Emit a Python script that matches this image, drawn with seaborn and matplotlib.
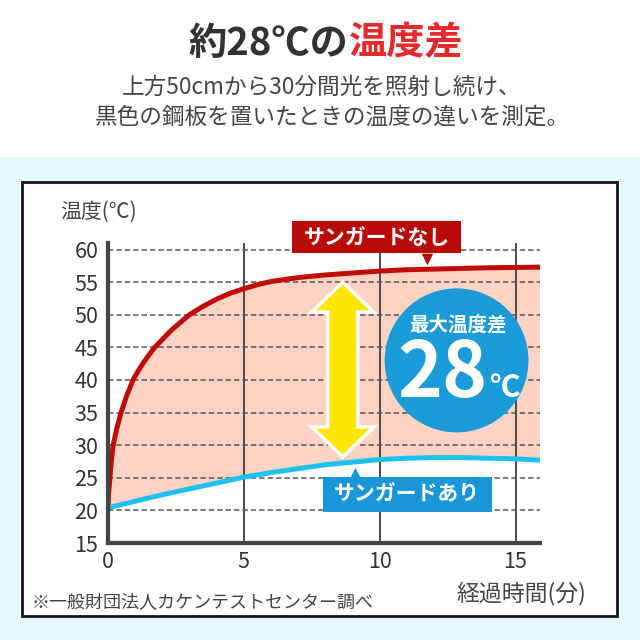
import matplotlib
matplotlib.use('Agg')
import matplotlib.pyplot as plt
import matplotlib.patches as mpatches
import numpy as np
import pandas as pd
import seaborn as sns

# data (minutes, deg C)
red_t = [0, 0.02, 0.07, 0.12, 0.19, 0.32, 0.48, 0.68, 0.92, 1.1, 1.28, 1.5, 1.72, 2.0,
         2.3, 2.6, 3.0, 3.5, 4.0, 4.5, 5.0, 5.5, 6.0, 7.0, 8.0, 9.0, 10.0, 11.0, 12.0,
         13.0, 14.0, 15.0, 15.9]
red_v = [20, 22.5, 25, 27.5, 30, 32.5, 35, 37.5, 40, 41.3, 42.5, 43.8, 45, 46.2,
         47.5, 48.6, 50, 51.3, 52.4, 53.3, 54.0, 54.6, 55.1, 55.7, 56.1, 56.4, 56.7, 56.9,
         57.0, 57.1, 57.2, 57.25, 57.3]
blue_t = [0, 1, 2, 3, 4, 5, 6, 7, 8, 9, 10, 11, 12, 13, 14, 15, 15.9]
blue_v = [20.4, 21.4, 22.4, 23.3, 24.2, 25.1, 25.8, 26.4, 27.0, 27.4, 27.8, 28.0,
          28.1, 28.1, 28.0, 27.9, 27.7]
x_ticks = [0, 5, 10, 15]
y_ticks = [15, 20, 25, 30, 35, 40, 45, 50, 55, 60]
max_diff = 28

title_dark = '約28℃の'
title_red = '温度差'
sub1 = '上方50cmから30分間光を照射し続け、'
sub2 = '黒色の鋼板を置いたときの温度の違いを測定。'
label_red = 'サンガードなし'
label_blue = 'サンガードあり'
ylab = '温度(℃)'
xlab = '経過時間(分)'
source = '※一般財団法人カケンテストセンター調べ'

df_red = pd.DataFrame({'t': red_t, 'v': red_v})
df_blue = pd.DataFrame({'t': blue_t, 'v': blue_v})

sns.set_theme(style='white')
plt.rcParams['font.family'] = ['Noto Sans CJK JP', 'DejaVu Sans']

W = H = 640


def fx(px):
    return px / W


def fy(py):
    return 1 - py / H


fig = plt.figure(figsize=(6.4, 6.4), dpi=100)
fig.patch.set_facecolor('white')

# light cyan band and white framed panel
fig.patches.append(mpatches.Rectangle((0, 0), 1, fy(157), transform=fig.transFigure,
                                      facecolor='#E5F8FD', edgecolor='none', zorder=-3))
fig.patches.append(mpatches.Rectangle((fx(22), fy(616)), fx(595), fy(182) - fy(616),
                                      transform=fig.transFigure, facecolor='white',
                                      edgecolor='#151515', linewidth=2, zorder=-2))

# header
fig.text(fx(348), fy(43), title_dark, ha='right', va='center', fontsize=27.5,
         fontweight='bold', color='#333333')
fig.text(fx(349), fy(43), title_red, ha='left', va='center', fontsize=27.5,
         fontweight='bold', color='#E62A2C')
fig.text(fx(322), fy(87), sub1, ha='center', va='center', fontsize=16.3, color='#444444')
fig.text(fx(332), fy(117), sub2, ha='center', va='center', fontsize=16.3, color='#444444')

ax = fig.add_axes([fx(108), fy(543), fx(540) - fx(108), fy(243) - fy(543)])
ax.set_facecolor('none')

# shaded gap between the two curves
ax.fill(np.concatenate([red_t, blue_t[::-1]]), np.concatenate([red_v, blue_v[::-1]]),
        color='#FDD4C4', linewidth=0, zorder=1)

sns.lineplot(data=df_red, x='t', y='v', ax=ax, color='#C00B0B', linewidth=3.6, zorder=3)
sns.lineplot(data=df_blue, x='t', y='v', ax=ax, color='#1EC0EE', linewidth=3.6, zorder=3)

ax.set_xlim(0, 15.9)
ax.set_ylim(15, 61)
ax.set_xticks(x_ticks)
ax.set_yticks(y_ticks)
ax.set_xlabel('')
ax.set_ylabel('')
ax.tick_params(length=0, labelsize=15.5, colors='#333333')
ax.tick_params(axis='y', pad=7)
ax.tick_params(axis='x', pad=6)
ax.set_axisbelow(False)
ax.xaxis.grid(True, color='#4a4a4a', linewidth=1.4, linestyle='-')
ax.yaxis.grid(True, color='#555555', linewidth=1.1, linestyle=(0, (3.5, 2)))
for s in ['top', 'right']:
    ax.spines[s].set_visible(False)
for s in ['left', 'bottom']:
    ax.spines[s].set_color('#444444')
    ax.spines[s].set_linewidth(3)
    ax.spines[s].set_zorder(6)

# yellow double arrow
ac, atop, abot = 8.64, 55.0, 28.2
hw, sw, hl = 1.14, 0.55, 4.6
arrow_x = [ac, ac + hw, ac + sw, ac + sw, ac + hw, ac, ac - hw, ac - sw, ac - sw, ac - hw]
arrow_y = [atop, atop - hl, atop - hl, abot + hl, abot + hl, abot, abot + hl, abot + hl,
           atop - hl, atop - hl]
ax.add_patch(mpatches.Polygon(list(zip(arrow_x, arrow_y)), closed=True, facecolor='#FFE600',
                              edgecolor='white', linewidth=2.5, zorder=4, joinstyle='miter'))

# blue circle with max difference
ax.add_patch(mpatches.Ellipse((12.83, 43.0), 144 / 27.2, 144 / 6.52, facecolor='#1B9BD8',
                              edgecolor='none', zorder=4))
ax.text(12.87, 48.4, '最大温度差', ha='center', va='center', fontsize=14,
        fontweight='bold', color='white', zorder=5)
ax.text(12.3, 37.35, str(max_diff), ha='center', va='baseline', fontsize=55,
        fontweight='bold', color='white', zorder=5)
ax.text(14.6, 37.35, '℃', ha='center', va='baseline', fontsize=22,
        fontweight='bold', color='white', zorder=5)

# series labels with pointers
ax.add_patch(mpatches.Rectangle((6.76, 59.4), 6.25, 5.0, facecolor='#B90A0A',
                                edgecolor='none', zorder=5, clip_on=False))
ax.text(9.9, 61.9, label_red, ha='center', va='center', fontsize=15, fontweight='bold',
        color='white', zorder=6, clip_on=False)
ax.scatter([11.73], [58.5], marker='v', s=70, color='#B90A0A', linewidths=0, zorder=5)

ax.add_patch(mpatches.Rectangle((7.9, 19.8), 6.25, 5.3, facecolor='#1A96D8',
                                edgecolor='none', zorder=5))
ax.text(11.0, 22.5, label_blue, ha='center', va='center', fontsize=15, fontweight='bold',
        color='white', zorder=6)
ax.scatter([9.08], [25.8], marker='^', s=70, color='#1A96D8', linewidths=0, zorder=5)

fig.text(fx(60), fy(212), ylab, ha='left', va='center', fontsize=15, color='#444444')
fig.text(fx(586), fy(593), xlab, ha='right', va='center', fontsize=16.5, color='#444444')
fig.text(fx(31), fy(602), source, ha='left', va='center', fontsize=13, color='#444444')

fig.savefig('out.png', dpi=100)
